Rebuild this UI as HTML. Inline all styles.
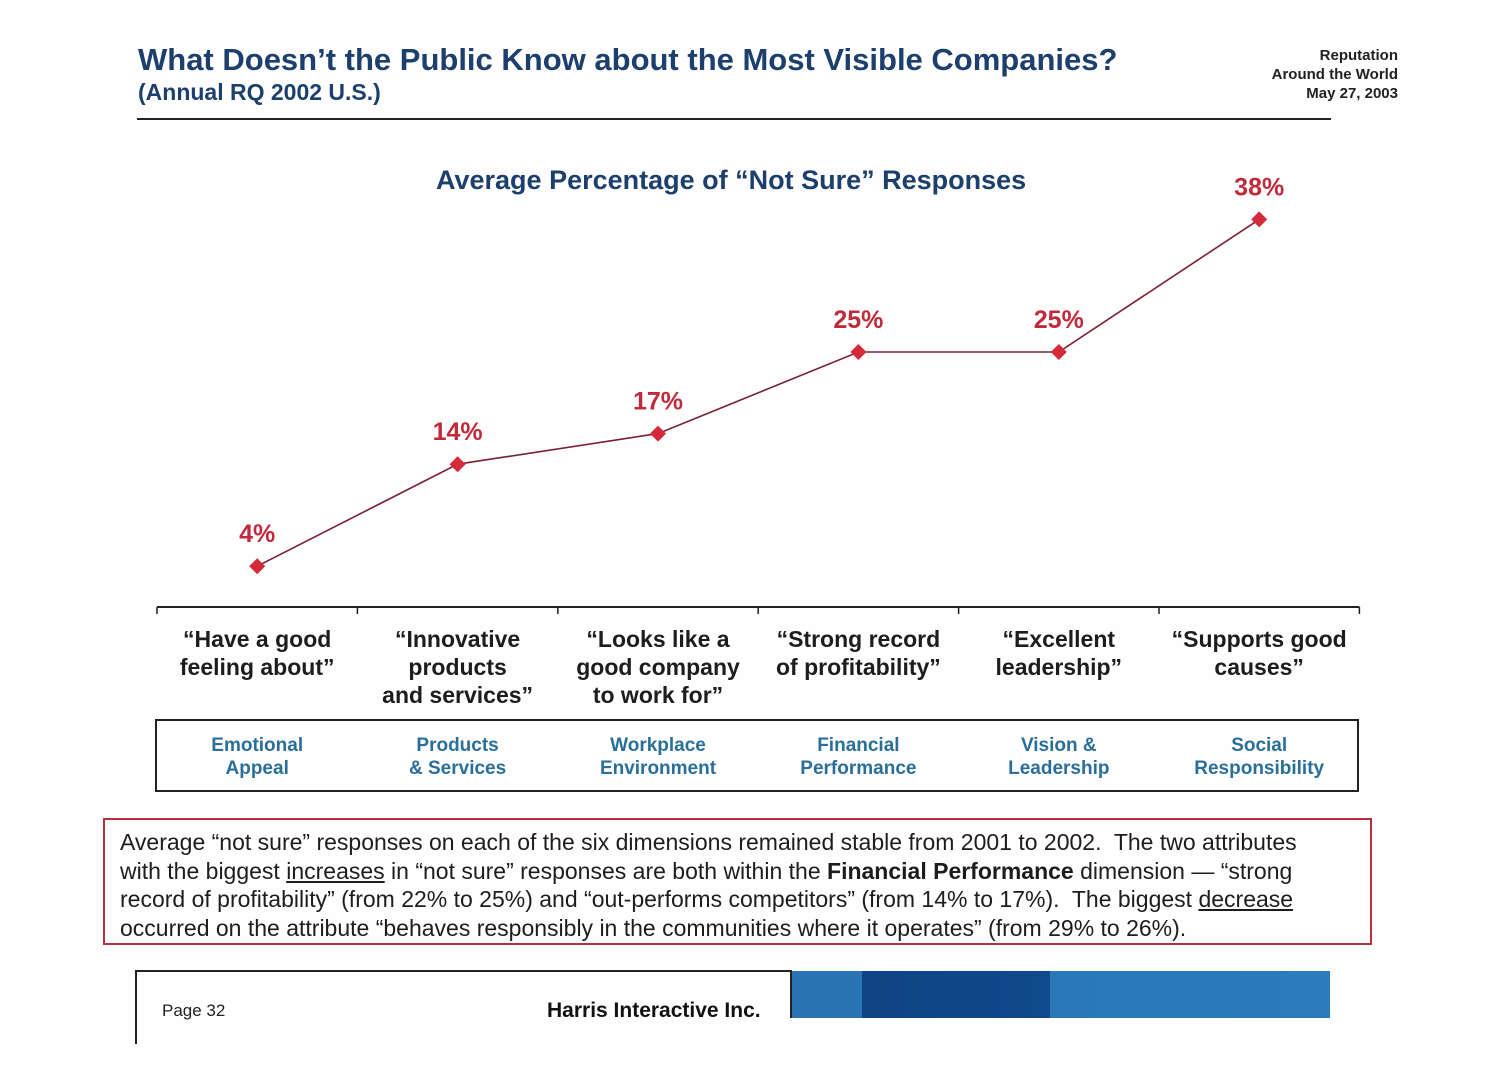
<!DOCTYPE html>
<html><head><meta charset="utf-8">
<style>
body{margin:0;width:1500px;height:1083px;background:#fefefe;font-family:"Liberation Sans",sans-serif;position:relative;overflow:hidden}
.a{position:absolute}
.cat{position:absolute;width:200px;text-align:center;font-size:23px;font-weight:bold;color:#1d1d1d;line-height:28px;top:625px}
.dim{position:absolute;width:200px;text-align:center;font-size:19px;font-weight:bold;color:#2a6f9a;line-height:23px;top:734px}
</style></head><body>
<div class="a" style="left:138px;top:42px;font-size:31px;font-weight:bold;color:#1c3f6e">What Doesn’t the Public Know about the Most Visible Companies?</div>
<div class="a" style="left:138px;top:79px;font-size:23px;font-weight:bold;color:#1c3f6e">(Annual RQ 2002 U.S.)</div>
<div class="a" style="right:102px;top:46px;font-size:15px;font-weight:bold;color:#222;text-align:right;line-height:19px">Reputation<br>Around the World<br>May 27, 2003</div>
<div class="a" style="left:137px;top:118px;width:1194px;height:2px;background:#222"></div>
<div class="a" style="left:436px;top:165px;font-size:27px;font-weight:bold;color:#1c3f6e">Average Percentage of “Not Sure” Responses</div>
<svg class="a" id="chart" style="left:0;top:0" width="1500" height="620"></svg>
<div id="cats"></div>
<div class="a" style="left:155px;top:719px;width:1200px;height:69px;border:2px solid #222"></div>
<div id="dims"></div>
<div class="a" style="left:103px;top:818px;width:1250px;height:115px;border:2px solid #b8303c;padding:8px 0 0 15px;font-size:23px;line-height:28.5px;color:#1d1d1d;white-space:nowrap">Average “not sure” responses on each of the six dimensions remained stable from 2001 to 2002.&nbsp; The two attributes<br>with the biggest <u>increases</u> in “not sure” responses are both within the <b>Financial Performance</b> dimension — “strong<br>record of profitability” (from 22% to 25%) and “out-performs competitors” (from 14% to 17%).&nbsp; The biggest <u>decrease</u><br>occurred on the attribute “behaves responsibly in the communities where it operates” (from 29% to 26%).</div>
<div class="a" style="left:135px;top:970px;width:655px;height:72px;border-left:2px solid #222;border-top:2px solid #222"></div>
<div class="a" style="left:162px;top:1001px;font-size:17px;color:#222">Page 32</div>
<div class="a" style="left:547px;top:999px;font-size:21px;font-weight:bold;color:#111">Harris Interactive Inc.</div>
<div class="a" style="left:790px;top:971px;width:538px;height:47px;background:linear-gradient(90deg,#2a74b4 0,#2a74b4 13%,#0f4484 13%,#0f4a8c 48%,#2a78b8 48%,#2a7cbc 100%);border-left:2px solid #222"></div>
<script>
const categories=["“Have a good feeling about”","“Innovative products and services”","“Looks like a good company to work for”","“Strong record of profitability”","“Excellent leadership”","“Supports good causes”"];
const catLines=[["“Have a good","feeling about”"],["“Innovative","products","and services”"],["“Looks like a","good company","to work for”"],["“Strong record","of profitability”"],["“Excellent","leadership”"],["“Supports good","causes”"]];
const dimensions=[["Emotional","Appeal"],["Products","& Services"],["Workplace","Environment"],["Financial","Performance"],["Vision &","Leadership"],["Social","Responsibility"]];
const values=[4,14,17,25,25,38];
const valueLabels=["4%","14%","17%","25%","25%","38%"];
const NS="http://www.w3.org/2000/svg";
const svg=document.getElementById('chart');
const x0=157,step=200.4,axisY=607,pxPer=10.2;
const xs=i=>x0+step*(i+0.5);
const ys=v=>axisY-v*pxPer;
function mk(t,a){const e=document.createElementNS(NS,t);for(const k in a)e.setAttribute(k,a[k]);svg.appendChild(e);return e;}
let ax=mk('line',{x1:x0,y1:axisY,x2:x0+step*6,y2:axisY,stroke:'#222','stroke-width':2});


for(let i=0;i<=6;i++){let t=mk('line',{x1:x0+step*i,y1:axisY,x2:x0+step*i,y2:axisY+7,stroke:'#222','stroke-width':1.5});

}
let pts=values.map((v,i)=>xs(i)+','+ys(v)).join(' ');
let pl=mk('polyline',{points:pts,fill:'none',stroke:'#7a1f35','stroke-width':1.6});


values.forEach((v,i)=>{const x=xs(i),y=ys(v);
let d=mk('polygon',{points:`${x},${y-8} ${x+8},${y} ${x},${y+8} ${x-8},${y}`,fill:'#d42a3a'});


let t=mk('text',{x:x,y:y-24,'text-anchor':'middle','font-size':25,'font-weight':'bold',fill:'#c02a3a','font-family':'Liberation Sans, sans-serif'});
t.textContent=valueLabels[i];

});
const cats=document.getElementById('cats'),dims=document.getElementById('dims');
catLines.forEach((l,i)=>{const d=document.createElement('div');d.className='cat';d.style.left=(xs(i)-100)+'px';d.innerHTML=l.join('<br>');


cats.appendChild(d);});
dimensions.forEach((l,i)=>{const d=document.createElement('div');d.className='dim';d.style.left=(xs(i)-100)+'px';d.innerHTML=l.join('<br>');


dims.appendChild(d);});
</script>
</body></html>
